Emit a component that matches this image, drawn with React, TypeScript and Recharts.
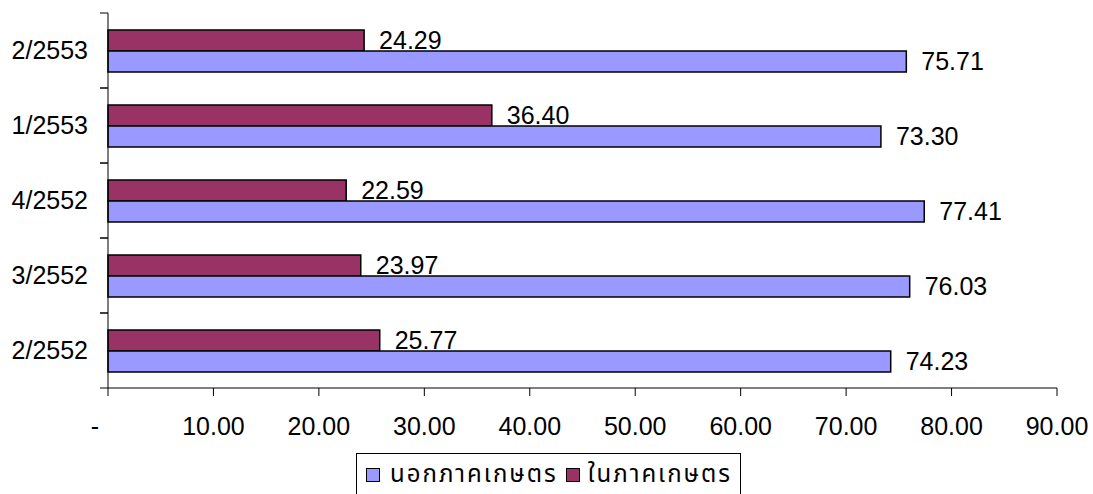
import React from "react";
import { BarChart, Bar, XAxis, YAxis, LabelList } from "recharts";

const categories = ["2/2552", "3/2552", "4/2552", "1/2553", "2/2553"];
const outsideAgri = [74.23, 76.03, 77.41, 73.3, 75.71];
const insideAgri = [25.77, 23.97, 22.59, 36.4, 24.29];
const xTicks = [0, 10, 20, 30, 40, 50, 60, 70, 80, 90];
const seriesNames = { outside: "นอกภาคเกษตร", inside: "ในภาคเกษตร" };

const data = categories.map((c, i) => ({
  name: c,
  outside: outsideAgri[i],
  inside: insideAgri[i],
}));

const W = 1093;
const H = 494;
const MARGIN = { top: 13, right: 36, bottom: 46, left: 0 };
const Y_W = 108;
const X_H = 60;
const PLOT_H = H - MARGIN.top - MARGIN.bottom - X_H;
const TICK = 8;
const Y_TICK_MARGIN = 12;
const FS = 25;
const FONT = "'Liberation Sans', Arial, sans-serif";
const THAI_FONT = "Tahoma, 'Noto Sans Thai', 'Noto Sans', 'DejaVu Sans', sans-serif";

const YTick = (props: any) => {
  const { x, y, payload } = props;
  const band = PLOT_H / categories.length;
  const ax = x + TICK + Y_TICK_MARGIN;
  return (
    <g>
      <line x1={ax - TICK} x2={ax} y1={y - band / 2} y2={y - band / 2} stroke="#000" />
      <line x1={ax - TICK} x2={ax} y1={y + band / 2} y2={y + band / 2} stroke="#000" />
      <text x={x} y={y} dy="0.355em" textAnchor="end" fontSize={FS} fontFamily={FONT} fill="#000">
        {payload.value}
      </text>
    </g>
  );
};

const XTick = (props: any) => {
  const { x, y, payload } = props;
  const v = payload.value;
  return (
    <text
      x={v === 0 ? x - 13 : x}
      y={y}
      dy="0.71em"
      textAnchor="middle"
      fontSize={FS}
      fontFamily={FONT}
      fill="#000"
    >
      {v === 0 ? "-" : Number(v).toFixed(2)}
    </text>
  );
};

const fmt = (v: any) => Number(v).toFixed(2);

const Swatch = ({ color }: { color: string }) => (
  <span
    style={{
      display: "inline-block",
      width: 12,
      height: 12,
      background: color,
      border: "1px solid #000",
      flex: "none",
    }}
  />
);

export default function App() {
  return (
    <div style={{ position: "absolute", left: 0, top: 0, width: W, height: H, background: "#fff", overflow: "hidden" }}>
      <BarChart
        width={W}
        height={H}
        data={data}
        layout="vertical"
        margin={MARGIN}
        barGap={0}
      >
        <XAxis
          type="number"
          domain={[0, 90]}
          ticks={xTicks}
          interval={0}
          height={X_H}
          stroke="#000"
          tickSize={TICK}
          tickMargin={21}
          tick={<XTick />}
        />
        <YAxis
          type="category"
          dataKey="name"
          reversed
          width={Y_W}
          stroke="#000"
          tickLine={false}
          tickSize={TICK}
          tickMargin={Y_TICK_MARGIN}
          tick={<YTick />}
          interval={0}
        />
        <Bar dataKey="inside" name={seriesNames.inside} fill="#993366" stroke="#000" strokeWidth={1.5} barSize={21} isAnimationActive={false}>
          <LabelList dataKey="inside" position="right" offset={15} formatter={fmt} fontSize={FS} fontFamily={FONT} fill="#000" />
        </Bar>
        <Bar dataKey="outside" name={seriesNames.outside} fill="#9999FF" stroke="#000" strokeWidth={1.5} barSize={21} isAnimationActive={false}>
          <LabelList dataKey="outside" position="right" offset={15} formatter={fmt} fontSize={FS} fontFamily={FONT} fill="#000" />
        </Bar>
      </BarChart>
      <div
        style={{
          position: "absolute",
          left: 356,
          top: 453,
          width: 385,
          height: 50,
          border: "1px solid #000",
          boxSizing: "border-box",
          display: "flex",
          alignItems: "flex-start",
          paddingLeft: 9,
          paddingTop: 6,
          fontFamily: THAI_FONT,
          fontSize: 24,
          lineHeight: "30px",
          letterSpacing: 2,
          color: "#000",
          whiteSpace: "nowrap",
        }}
      >
        <span style={{ display: "flex", alignItems: "center" }}>
          <Swatch color="#9999FF" />
          <span style={{ marginLeft: 10 }}>{seriesNames.outside}</span>
        </span>
        <span style={{ display: "flex", alignItems: "center", marginLeft: 8 }}>
          <Swatch color="#993366" />
          <span style={{ marginLeft: 8 }}>{seriesNames.inside}</span>
        </span>
      </div>
    </div>
  );
}
